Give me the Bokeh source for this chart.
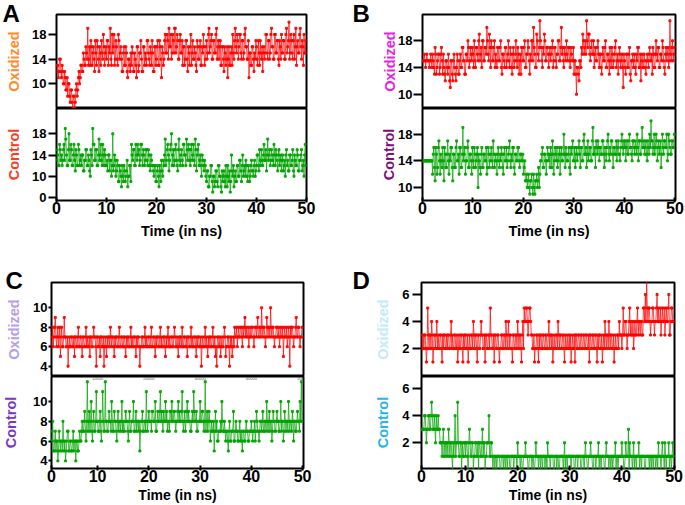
from bokeh.plotting import figure
from bokeh.layouts import column, row
from bokeh.models import FixedTicker, Range1d, Title
from bokeh.core.properties import value
from bokeh.embed import file_html
from bokeh.resources import INLINE

# ---------------- data ----------------
# each series: samples on the quarter-ns grid (t = 0, 0.25, ...) and on the
# in-between grid (t = 0.125, 0.375, ...)
time_ns = [i * 0.125 for i in range(400)]

a_oxidized = [
    12, 13, 12, 14, 11, 12, 10, 11, 9, 8, 10, 7, 9, 6, 8, 7, 10, 9, 12, 11,
    13, 12, 14, 13, 15, 19, 14, 13, 16, 15, 14, 17, 13, 16, 12, 15, 17, 14, 16, 15,
    14, 17, 16, 19, 13, 15, 18, 14, 16, 13, 17, 15, 14, 12, 16, 13, 15, 11, 14, 12,
    13, 15, 12, 14, 11, 16, 13, 15, 14, 12, 16, 15, 13, 17, 14, 16, 13, 15, 12, 16,
    14, 17, 13, 16, 11, 15, 14, 18, 15, 17, 19, 16, 14, 18, 15, 19, 16, 17, 14, 18,
    15, 13, 16, 14, 17, 12, 15, 16, 13, 17, 14, 15, 12, 16, 14, 17, 13, 15, 16, 14,
    17, 15, 19, 16, 18, 14, 17, 15, 19, 16, 14, 17, 13, 16, 12, 15, 14, 11, 16, 13,
    16, 18, 14, 19, 15, 17, 16, 18, 14, 17, 15, 19, 16, 14, 11, 15, 13, 16, 12, 14,
    16, 13, 15, 17, 14, 12, 16, 15, 18, 14, 17, 15, 19, 16, 14, 18, 15, 17, 13, 16,
    18, 15, 17, 14, 19, 16, 20, 15, 17, 14, 18, 16, 13, 17, 15, 19, 14, 16, 18, 15,
]
a_oxidized_mid = [
    13, 11, 14, 12, 13, 10, 12, 9, 11, 10, 8, 9, 7, 8, 6, 9, 8, 11, 10, 13,
    12, 15, 13, 16, 14, 13, 16, 17, 13, 16, 12, 15, 17, 14, 16, 13, 15, 18, 13, 16,
    17, 13, 15, 14, 18, 16, 13, 17, 14, 18, 14, 16, 12, 15, 13, 16, 12, 14, 13, 15,
    16, 12, 15, 13, 16, 12, 15, 17, 12, 16, 13, 14, 17, 15, 13, 15, 17, 12, 16, 13,
    16, 13, 17, 14, 16, 13, 17, 15, 18, 14, 16, 18, 15, 17, 19, 15, 18, 14, 17, 15,
    17, 16, 13, 17, 14, 16, 13, 18, 15, 14, 16, 13, 17, 14, 16, 13, 16, 18, 13, 16,
    14, 18, 15, 17, 14, 17, 15, 18, 14, 17, 16, 13, 16, 14, 16, 13, 16, 14, 13, 15,
    13, 15, 17, 16, 18, 14, 18, 15, 17, 14, 18, 16, 14, 17, 15, 13, 16, 14, 15, 17,
    14, 17, 13, 15, 16, 15, 14, 18, 15, 17, 14, 18, 16, 14, 18, 15, 17, 14, 17, 14,
    15, 17, 14, 18, 15, 17, 14, 18, 15, 17, 14, 19, 16, 15, 18, 16, 17, 13, 15, 17,
]
a_control = [
    13, 14, 12, 15, 14, 13, 16, 19, 14, 12, 18, 13, 15, 12, 16, 11, 14, 12, 15, 13,
    12, 14, 11, 13, 15, 12, 13, 10, 14, 19, 16, 13, 15, 12, 17, 14, 13, 16, 12, 14,
    12, 11, 14, 13, 10, 18, 12, 13, 11, 12, 9, 11, 8, 10, 12, 9, 11, 8, 10, 12,
    16, 13, 15, 12, 14, 16, 15, 13, 16, 12, 14, 13, 15, 12, 14, 11, 13, 12, 10, 12,
    9, 12, 8, 11, 13, 10, 12, 17, 13, 16, 11, 15, 18, 14, 12, 15, 13, 11, 17, 12,
    15, 12, 16, 14, 17, 13, 15, 12, 16, 14, 13, 17, 11, 15, 12, 14, 10, 13, 11, 12,
    9, 11, 8, 10, 12, 7, 10, 9, 11, 8, 12, 10, 7, 9, 11, 8, 10, 12, 9, 7,
    14, 10, 8, 11, 9, 12, 10, 13, 9, 14, 11, 10, 12, 9, 11, 10, 13, 11, 12, 10,
    12, 14, 11, 13, 15, 12, 16, 13, 11, 17, 14, 12, 15, 13, 16, 12, 14, 11, 15, 13,
    11, 14, 12, 10, 15, 13, 11, 14, 12, 15, 10, 13, 12, 14, 11, 13, 15, 12, 10, 16,
]
a_control_mid = [
    15, 12, 16, 13, 12, 15, 13, 17, 12, 15, 13, 16, 12, 14, 13, 15, 12, 16, 12, 14,
    14, 11, 13, 15, 12, 14, 11, 15, 12, 16, 13, 15, 12, 14, 13, 16, 12, 14, 15, 12,
    13, 14, 11, 13, 12, 11, 14, 10, 13, 9, 12, 10, 12, 9, 11, 10, 13, 10, 12, 9,
    14, 15, 12, 16, 13, 14, 12, 16, 14, 15, 12, 15, 13, 15, 12, 14, 12, 11, 12, 9,
    11, 10, 12, 9, 11, 13, 14, 12, 15, 14, 13, 16, 12, 15, 13, 16, 12, 15, 13, 14,
    13, 16, 14, 12, 15, 16, 13, 15, 13, 16, 12, 15, 14, 16, 13, 12, 14, 12, 13, 10,
    11, 8, 10, 12, 9, 10, 8, 11, 9, 12, 10, 8, 11, 10, 9, 12, 8, 10, 11, 9,
    11, 12, 10, 9, 12, 10, 13, 11, 12, 10, 12, 13, 10, 12, 9, 12, 11, 10, 13, 11,
    14, 12, 15, 12, 13, 14, 13, 15, 14, 13, 15, 13, 14, 12, 14, 15, 13, 14, 12, 14,
    13, 11, 13, 14, 12, 11, 14, 12, 13, 11, 14, 12, 15, 11, 13, 14, 11, 13, 14, 12,
]
b_oxidized = [
    15, 15, 15, 15, 15, 15, 15, 15, 16, 14, 17, 13, 15, 16, 14, 17, 13, 14, 12, 15,
    13, 14, 11, 15, 12, 16, 13, 14, 15, 13, 16, 14, 17, 15, 13, 16, 18, 14, 17, 15,
    16, 18, 14, 17, 15, 19, 16, 14, 18, 15, 17, 20, 16, 19, 14, 17, 15, 18, 16, 14,
    17, 15, 18, 13, 16, 14, 17, 15, 18, 14, 16, 13, 17, 15, 18, 14, 16, 15, 13, 17,
    15, 18, 14, 16, 17, 13, 15, 18, 20, 16, 14, 18, 15, 21, 17, 14, 16, 18, 15, 17,
    14, 17, 16, 18, 15, 17, 14, 16, 18, 15, 20, 17, 14, 16, 18, 15, 17, 14, 16, 15,
    13, 15, 10, 14, 12, 15, 17, 19, 16, 18, 21, 17, 19, 15, 18, 16, 14, 17, 15, 18,
    14, 16, 13, 17, 15, 18, 14, 16, 13, 15, 17, 14, 16, 18, 15, 13, 17, 14, 16, 11,
    15, 13, 16, 14, 17, 12, 15, 14, 16, 13, 15, 17, 14, 12, 16, 14, 15, 13, 16, 14,
    17, 15, 13, 16, 14, 18, 15, 17, 14, 16, 18, 15, 13, 17, 16, 14, 21, 15, 18, 16,
]
b_oxidized_mid = [
    15, 16, 14, 16, 15, 14, 16, 14, 15, 13, 16, 14, 16, 13, 16, 15, 16, 13, 15, 14,
    16, 12, 15, 13, 15, 14, 12, 16, 13, 15, 14, 17, 15, 13, 16, 15, 17, 15, 16, 17,
    14, 15, 17, 16, 18, 15, 17, 18, 15, 17, 16, 18, 15, 17, 18, 15, 17, 14, 15, 17,
    15, 17, 14, 16, 15, 17, 14, 16, 15, 17, 14, 16, 14, 16, 15, 17, 13, 16, 17, 15,
    17, 14, 16, 18, 15, 16, 18, 15, 17, 14, 19, 16, 17, 18, 15, 17, 19, 15, 17, 16,
    16, 15, 17, 14, 17, 15, 16, 18, 15, 17, 16, 15, 17, 15, 16, 17, 15, 17, 15, 17,
    15, 13, 14, 13, 15, 14, 16, 18, 17, 16, 18, 19, 16, 17, 16, 18, 16, 15, 17, 16,
    16, 14, 16, 15, 17, 14, 16, 15, 17, 14, 16, 15, 17, 14, 16, 15, 16, 15, 14, 16,
    14, 16, 14, 16, 13, 15, 16, 15, 14, 16, 17, 14, 16, 15, 14, 16, 14, 15, 15, 16,
    15, 16, 17, 14, 16, 16, 17, 14, 16, 15, 17, 14, 16, 15, 17, 15, 16, 17, 15, 17,
]
b_control = [
    14, 14, 14, 14, 14, 14, 14, 14, 12, 16, 11, 15, 13, 17, 12, 14, 16, 11, 15, 13,
    17, 12, 14, 16, 11, 15, 13, 17, 14, 12, 16, 13, 19, 15, 12, 14, 17, 13, 15, 12,
    14, 16, 13, 15, 10, 14, 12, 16, 13, 15, 14, 12, 16, 13, 15, 14, 17, 13, 15, 12,
    16, 13, 14, 15, 12, 16, 14, 13, 15, 17, 13, 14, 16, 12, 15, 14, 16, 13, 15, 14,
    12, 14, 11, 10, 12, 9, 11, 10, 12, 9, 11, 10, 13, 12, 14, 16, 13, 15, 12, 16,
    14, 13, 15, 17, 12, 16, 14, 13, 15, 12, 16, 14, 18, 13, 15, 14, 16, 12, 15, 17,
    14, 13, 16, 15, 17, 13, 16, 14, 18, 15, 13, 17, 15, 16, 14, 19, 15, 13, 16, 17,
    14, 16, 15, 17, 13, 15, 16, 18, 14, 15, 17, 13, 16, 15, 14, 17, 15, 16, 18, 15,
    16, 14, 17, 15, 18, 16, 14, 17, 15, 16, 18, 14, 17, 15, 19, 16, 15, 17, 14, 16,
    18, 20, 17, 16, 15, 18, 14, 17, 16, 13, 18, 15, 17, 16, 14, 18, 16, 15, 17, 16,
]
b_control_mid = [
    14, 14, 14, 14, 14, 14, 14, 14, 15, 13, 16, 12, 16, 14, 15, 13, 14, 16, 13, 15,
    14, 15, 16, 13, 15, 13, 16, 14, 15, 16, 13, 15, 14, 16, 14, 16, 13, 15, 14, 16,
    13, 15, 14, 16, 15, 13, 15, 13, 15, 14, 16, 13, 15, 14, 16, 13, 15, 14, 14, 15,
    14, 15, 16, 13, 15, 14, 16, 14, 16, 14, 15, 16, 13, 15, 14, 16, 14, 15, 14, 15,
    13, 11, 12, 11, 10, 11, 12, 9, 10, 11, 12, 11, 10, 14, 15, 13, 15, 14, 14, 15,
    15, 16, 13, 15, 14, 15, 16, 14, 16, 15, 14, 15, 15, 16, 14, 15, 13, 16, 16, 14,
    16, 15, 14, 16, 15, 16, 14, 17, 15, 16, 15, 14, 16, 14, 17, 15, 16, 17, 15, 16,
    16, 15, 17, 15, 16, 14, 17, 15, 16, 17, 15, 16, 15, 17, 16, 15, 14, 17, 16, 17,
    17, 16, 15, 17, 16, 15, 17, 16, 17, 15, 16, 17, 15, 17, 16, 17, 16, 15, 17, 15,
    16, 17, 15, 18, 16, 17, 16, 15, 17, 15, 16, 17, 16, 18, 15, 17, 15, 17, 16, 18,
]
c_oxidized = [
    7, 7, 7, 7, 6, 8, 7, 9, 6, 8, 7, 5, 8, 6, 9, 7, 6, 4, 7, 6,
    7, 6, 5, 7, 6, 8, 6, 7, 5, 7, 6, 8, 7, 6, 5, 7, 6, 8, 7, 4,
    7, 6, 5, 7, 6, 4, 7, 5, 6, 7, 8, 6, 7, 5, 6, 7, 6, 8, 6, 7,
    6, 7, 5, 6, 7, 6, 8, 7, 6, 7, 5, 6, 7, 4, 6, 7, 6, 8, 7, 6,
    7, 6, 8, 6, 7, 5, 6, 7, 6, 8, 7, 6, 7, 5, 6, 8, 7, 6, 7, 6,
    8, 6, 7, 5, 6, 7, 8, 6, 7, 6, 5, 7, 6, 8, 7, 6, 7, 5, 6, 7,
    6, 4, 7, 6, 8, 7, 5, 6, 7, 6, 8, 6, 5, 4, 7, 6, 5, 7, 6, 8,
    5, 6, 7, 4, 6, 5, 7, 8, 7, 6, 8, 7, 8, 6, 7, 9, 8, 7, 6, 8,
    7, 8, 6, 8, 7, 9, 7, 8, 10, 7, 8, 6, 9, 7, 8, 10, 7, 8, 6, 7,
    8, 7, 6, 8, 7, 5, 8, 7, 6, 8, 4, 7, 8, 6, 7, 9, 7, 8, 6, 7,
]
c_oxidized_mid = [
    6, 7, 6, 8, 7, 6, 8, 7, 7, 6, 8, 7, 6, 7, 7, 6, 7, 6, 6, 7,
    6, 7, 7, 6, 7, 6, 7, 6, 7, 6, 7, 6, 6, 7, 7, 6, 7, 7, 6, 7,
    6, 7, 7, 6, 7, 6, 6, 7, 7, 6, 7, 7, 6, 7, 7, 6, 7, 6, 7, 6,
    7, 6, 7, 7, 6, 7, 6, 6, 7, 6, 7, 7, 6, 6, 7, 6, 7, 6, 6, 7,
    6, 7, 6, 7, 6, 7, 7, 6, 7, 6, 6, 7, 6, 7, 7, 6, 6, 7, 6, 7,
    7, 6, 6, 7, 7, 6, 6, 7, 6, 7, 7, 6, 7, 6, 6, 7, 6, 7, 7, 6,
    7, 6, 6, 7, 6, 6, 7, 7, 6, 7, 6, 7, 6, 7, 6, 7, 6, 6, 7, 7,
    6, 7, 6, 7, 7, 6, 6, 7, 8, 7, 7, 8, 7, 8, 8, 7, 7, 8, 7, 7,
    8, 7, 7, 8, 8, 7, 8, 7, 8, 8, 7, 7, 8, 8, 7, 8, 8, 7, 7, 8,
    7, 8, 7, 7, 8, 7, 7, 8, 7, 7, 8, 8, 7, 7, 8, 7, 8, 7, 7, 8,
]
c_control = [
    7, 7, 7, 7, 6, 8, 5, 7, 6, 4, 7, 5, 6, 8, 5, 4, 6, 7, 5, 6,
    5, 7, 6, 4, 6, 5, 7, 6, 8, 7, 9, 6, 12, 8, 7, 10, 6, 9, 7, 11,
    8, 7, 9, 6, 11, 7, 12, 8, 7, 9, 8, 10, 7, 9, 8, 6, 9, 8, 7, 10,
    8, 7, 9, 8, 6, 9, 7, 8, 10, 7, 9, 8, 7, 5, 8, 9, 7, 8, 11, 7,
    9, 8, 7, 9, 8, 10, 7, 9, 8, 11, 9, 7, 8, 10, 9, 8, 7, 9, 10, 8,
    9, 7, 8, 10, 9, 8, 11, 7, 9, 8, 10, 9, 8, 7, 9, 11, 8, 9, 7, 8,
    10, 8, 9, 7, 12, 8, 7, 9, 6, 8, 7, 5, 9, 8, 6, 7, 8, 10, 7, 8,
    6, 7, 5, 8, 6, 7, 9, 6, 8, 7, 6, 8, 7, 5, 7, 6, 8, 7, 6, 7,
    8, 6, 7, 6, 9, 7, 6, 8, 7, 9, 7, 8, 10, 7, 9, 8, 6, 9, 8, 7,
    9, 8, 7, 10, 8, 6, 9, 7, 8, 10, 7, 8, 9, 6, 8, 7, 9, 8, 10, 12,
]
c_control_mid = [
    6, 6, 7, 6, 7, 5, 6, 5, 6, 5, 6, 6, 5, 6, 6, 5, 7, 5, 6, 5,
    6, 5, 6, 6, 5, 6, 6, 7, 7, 8, 7, 8, 7, 9, 8, 7, 8, 7, 8, 8,
    7, 8, 7, 8, 8, 7, 8, 7, 8, 8, 7, 8, 7, 8, 7, 8, 7, 8, 8, 7,
    7, 8, 8, 7, 8, 7, 8, 8, 7, 8, 7, 8, 8, 7, 8, 7, 8, 7, 8, 8,
    8, 8, 9, 8, 8, 7, 8, 8, 9, 8, 8, 9, 8, 8, 7, 8, 9, 8, 8, 9,
    8, 8, 9, 8, 8, 9, 8, 8, 7, 9, 8, 8, 7, 8, 8, 9, 8, 7, 8, 8,
    8, 9, 8, 8, 7, 9, 8, 8, 7, 7, 8, 7, 7, 6, 7, 7, 7, 8, 7, 7,
    7, 6, 7, 6, 7, 7, 6, 7, 7, 6, 7, 6, 6, 7, 6, 7, 7, 6, 7, 7,
    7, 7, 8, 7, 8, 7, 7, 8, 8, 7, 8, 7, 8, 8, 7, 8, 7, 8, 7, 8,
    8, 7, 8, 7, 8, 7, 8, 8, 7, 8, 8, 7, 8, 8, 7, 8, 8, 7, 8, 8,
]
d_oxidized = [
    3, 2, 3, 2, 3, 2, 3, 2, 2, 3, 1, 5, 2, 3, 4, 1, 3, 2, 4, 3,
    2, 3, 1, 2, 3, 2, 2, 3, 2, 4, 3, 2, 3, 2, 1, 3, 2, 3, 1, 2,
    3, 2, 1, 3, 2, 3, 4, 2, 3, 1, 3, 2, 4, 3, 2, 1, 3, 2, 3, 5,
    3, 2, 1, 3, 2, 3, 1, 2, 3, 2, 3, 4, 2, 4, 3, 2, 1, 3, 2, 3,
    4, 2, 3, 1, 4, 5, 4, 5, 3, 5, 4, 3, 2, 1, 2, 3, 1, 2, 3, 2,
    3, 2, 3, 2, 4, 3, 2, 1, 3, 2, 3, 4, 2, 3, 2, 3, 1, 2, 3, 2,
    2, 1, 3, 2, 1, 3, 2, 3, 2, 3, 2, 3, 2, 3, 2, 1, 3, 2, 3, 2,
    3, 1, 2, 3, 2, 1, 3, 4, 2, 3, 4, 2, 3, 2, 1, 3, 2, 3, 4, 3,
    2, 5, 3, 4, 2, 3, 5, 4, 3, 2, 4, 3, 5, 4, 3, 4, 3, 5, 6, 7,
    4, 5, 3, 4, 5, 3, 4, 6, 5, 4, 3, 5, 4, 3, 5, 4, 6, 3, 5, 4,
]
d_oxidized_mid = [
    2, 3, 2, 3, 2, 3, 2, 3, 3, 2, 2, 3, 3, 2, 3, 2, 3, 3, 2, 2,
    3, 2, 3, 3, 2, 3, 3, 2, 3, 2, 2, 3, 2, 3, 2, 2, 3, 2, 3, 3,
    2, 3, 2, 2, 3, 2, 3, 3, 2, 3, 2, 3, 3, 2, 3, 3, 2, 3, 2, 3,
    2, 3, 3, 2, 3, 2, 2, 3, 2, 3, 2, 3, 3, 2, 3, 2, 3, 2, 3, 2,
    3, 3, 2, 3, 2, 4, 5, 4, 4, 5, 3, 2, 3, 2, 3, 2, 3, 3, 2, 3,
    2, 3, 2, 3, 2, 3, 3, 2, 2, 3, 2, 3, 3, 2, 3, 2, 3, 2, 2, 3,
    3, 2, 2, 3, 3, 2, 3, 2, 3, 2, 3, 2, 3, 2, 3, 3, 2, 3, 2, 3,
    2, 3, 3, 2, 3, 2, 2, 3, 3, 2, 3, 3, 2, 3, 2, 2, 3, 2, 3, 3,
    3, 3, 4, 3, 3, 4, 3, 3, 4, 3, 3, 4, 3, 4, 4, 3, 5, 4, 4, 5,
    5, 4, 4, 5, 4, 4, 5, 4, 4, 5, 4, 4, 5, 4, 4, 5, 3, 4, 5, 4,
]
d_control = [
    3, 3, 3, 3, 3, 3, 3, 3, 3, 4, 2, 3, 4, 3, 5, 3, 4, 2, 3, 4,
    3, 2, 1, 3, 2, 1, 2, 3, 1, 2, 0, 1, 4, 2, 5, 1, 2, 0, 1, 2,
    1, 2, 0, 3, 1, 2, 0, 1, 2, 1, 0, 2, 1, 3, 2, 0, 1, 2, 4, 1,
    2, 0, 1, 1, 0, 1, 1, 0, 1, 0, 1, 1, 0, 1, 0, 1, 1, 0, 1, 1,
    2, 1, 0, 1, 0, 1, 2, 1, 0, 1, 1, 0, 1, 0, 2, 1, 0, 1, 1, 0,
    1, 0, 1, 2, 1, 0, 1, 1, 0, 1, 0, 1, 0, 1, 1, 0, 2, 1, 0, 1,
    1, 0, 1, 1, 0, 1, 0, 1, 1, 0, 1, 0, 2, 1, 0, 1, 2, 1, 0, 1,
    0, 1, 2, 1, 0, 1, 1, 0, 2, 1, 0, 1, 1, 0, 1, 2, 1, 0, 1, 1,
    2, 1, 0, 2, 1, 3, 2, 1, 0, 2, 1, 0, 1, 2, 1, 0, 1, 1, 0, 1,
    1, 0, 1, 1, 0, 1, 0, 1, 2, 1, 0, 2, 1, 2, 0, 1, 2, 1, 0, 2,
]
d_control_mid = [
    3, 3, 3, 3, 3, 3, 3, 3, 4, 3, 3, 4, 3, 4, 4, 3, 3, 4, 3, 3,
    2, 2, 2, 1, 2, 2, 1, 2, 2, 1, 2, 2, 1, 2, 2, 1, 2, 2, 1, 2,
    2, 1, 2, 2, 1, 2, 1, 2, 1, 2, 2, 1, 2, 1, 2, 1, 2, 2, 1, 2,
    1, 1, 0, 1, 1, 1, 0, 1, 1, 1, 0, 1, 1, 1, 0, 1, 1, 1, 1, 0,
    1, 1, 1, 0, 1, 1, 1, 1, 0, 1, 1, 1, 0, 1, 1, 1, 1, 0, 1, 1,
    1, 1, 0, 1, 1, 1, 1, 0, 1, 1, 1, 0, 1, 1, 1, 1, 0, 1, 1, 1,
    1, 1, 1, 0, 1, 1, 1, 1, 0, 1, 1, 1, 1, 0, 1, 1, 1, 0, 1, 1,
    1, 1, 0, 1, 1, 1, 0, 1, 1, 1, 1, 0, 1, 1, 1, 0, 1, 1, 1, 1,
    1, 0, 1, 1, 1, 0, 1, 1, 1, 0, 1, 1, 1, 0, 1, 1, 1, 0, 1, 1,
    1, 1, 0, 1, 1, 1, 1, 0, 1, 1, 1, 1, 0, 1, 1, 1, 0, 1, 1, 1,
]

x_ticks = [10, 20, 30, 40, 50]
y_ticks_a_ox = [10, 14, 18]
y_ticks_a_ctl = [6, 10, 14, 18]
y_tick_labels_a_ctl = {6: "0"}
y_ticks_b = [10, 14, 18]
y_ticks_c = [4, 6, 8, 10]
y_ticks_d = [2, 4, 6]
c_minor_ticks = [10, 20, 30, 40, 50]
c_minor_labels = ["10000", "20000", "30000", "40000", "50000"]

FONT = "Liberation Sans"
RED = "#FF0000"
GREEN = "#00A300"
X_TICK_OUT = 2
X_LABEL_STANDOFF = -1


def interleave(on_grid, mid_grid):
    out = []
    for a, b in zip(on_grid, mid_grid):
        out.extend([a, b])
    return out


def frame_fig(width, height, left, right, top, bottom, xr, yr):
    p = figure(width=width, height=height, x_range=Range1d(*xr), y_range=Range1d(*yr),
               output_backend="svg", toolbar_location=None, title=None,
               min_border_left=left, min_border_right=right,
               min_border_top=top, min_border_bottom=bottom)
    p.outline_line_color = "black"
    p.outline_line_width = 2
    p.outline_line_alpha = 1
    p.xgrid.visible = False
    p.ygrid.visible = False
    p.background_fill_color = "white"
    p.border_fill_color = "white"
    return p


def style_y(p, ticks, label, color, tick_out, standoff, title_standoff, overrides=None):
    ax = p.yaxis[0]
    ax.ticker = FixedTicker(ticks=ticks)
    if overrides:
        ax.major_label_overrides = overrides
    ax.major_label_text_font = FONT
    ax.major_label_text_font_style = "bold"
    ax.major_label_text_font_size = "13px"
    ax.major_label_text_color = "black"
    ax.major_tick_in = 0
    ax.major_tick_out = tick_out
    ax.major_tick_line_width = 2
    ax.major_tick_line_color = "black"
    ax.minor_tick_line_color = None
    ax.axis_line_color = None
    ax.major_label_standoff = standoff
    ax.axis_label = label
    ax.axis_label_text_color = color
    ax.axis_label_text_font = FONT
    ax.axis_label_text_font_style = "bold"
    ax.axis_label_text_font_size = "14.5px"
    ax.axis_label_standoff = title_standoff


def style_x(p, ticks, overrides, title_standoff, title_size):
    ax = p.xaxis[0]
    ax.ticker = FixedTicker(ticks=ticks)
    if overrides:
        ax.major_label_overrides = overrides
    ax.major_label_text_font = FONT
    ax.major_label_text_font_style = "bold"
    ax.major_label_text_font_size = "16px"
    ax.major_label_text_color = "black"
    ax.major_tick_in = 3
    ax.major_tick_out = X_TICK_OUT
    ax.major_tick_line_width = 2
    ax.major_tick_line_color = "black"
    ax.minor_tick_line_color = None
    ax.axis_line_color = None
    ax.major_label_standoff = X_LABEL_STANDOFF
    ax.axis_label = "Time (in ns)"
    ax.axis_label_text_color = "black"
    ax.axis_label_text_font = FONT
    ax.axis_label_text_font_style = "bold"
    ax.axis_label_text_font_size = title_size
    ax.axis_label_standoff = title_standoff


def add_series(p, y, color):
    p.line(time_ns, y, line_color=color, line_width=1, line_alpha=0.72)
    p.scatter(time_ns, y, marker="square", size=2, color=color, alpha=0.9)


def panel(letter, ox, ctl, xr, yr_ox, yr_ctl, ticks_ox, ticks_ctl, ctl_overrides,
          width, left, right, h_ox, top, h_ctl, bottom,
          ox_color, ctl_color, tick_out, standoff, t_std_ox, t_std_ctl,
          letter_offset, letter_standoff, xticks, xoverrides, xt_std, xt_size):
    p1 = frame_fig(width, h_ox, left, right, top, 0, xr, yr_ox)
    p1.xaxis.visible = False
    style_y(p1, ticks_ox, "Oxidized", ox_color, tick_out, standoff, t_std_ox)
    add_series(p1, ox, RED)
    p1.title = Title(text=letter, align="left", vertical_align="bottom",
                     offset=letter_offset, standoff=letter_standoff,
                     text_font=FONT, text_font_style="bold",
                     text_font_size="24px", text_color="black")

    p2 = frame_fig(width, h_ctl, left, right, 0, bottom, xr, yr_ctl)
    style_y(p2, ticks_ctl, "Control", ctl_color, tick_out, standoff, t_std_ctl, ctl_overrides)
    style_x(p2, xticks, xoverrides, xt_std, xt_size)
    add_series(p2, ctl, GREEN)
    return p1, p2


# Panel A  (page x 0..340)
xa = (0.0, 50.0)
a1, a2 = panel("A", interleave(a_oxidized, a_oxidized_mid), interleave(a_control, a_control_mid),
               xa, (6.0, 21.24), (5.42, 22.77),
               y_ticks_a_ox, y_ticks_a_ctl, y_tick_labels_a_ctl,
               340, 56, 34, 108, 14, 137, 45,
               "#FF8A2A", "#F83C1E", 8, 2, 7, 7,
               -54, -24, [0] + x_ticks, None, 6, "14.5px")
# Panel B  (page x 340..685)
xb = (0.0, 50.1)
b1, b2 = panel("B", interleave(b_oxidized, b_oxidized_mid), interleave(b_control, b_control_mid),
               xb, (7.86, 21.94), (8.05, 21.86),
               y_ticks_b, y_ticks_b, None,
               345, 82, 10, 108, 14, 137, 45,
               "#E61EE6", "#7D0F7D", 9, 1, -3, -2,
               -70, -24, [0] + x_ticks, None, 6, "14.5px")
# Panel C
xc = (1.01, 50.17)
c1, c2 = panel("C", interleave(c_oxidized, c_oxidized_mid), interleave(c_control, c_control_mid),
               xc, (2.94, 12.6), (3.23, 12.53),
               y_ticks_c, y_ticks_c, None,
               340, 48, 37, 131, 37, 129, 36,
               "#B79DE8", "#7738C8", 3, 1, 8, 11,
               -46, -23, [xc[0]] + x_ticks, {xc[0]: "0"}, 2, "14px")
c2.text(x=c_minor_ticks, y=[12.53 - 2.5 * (12.53 - 3.23) / 93] * len(c_minor_ticks),
        text=c_minor_labels, text_font=value(FONT), text_font_size=value("4px"),
        text_color="#555555", text_align="center", text_baseline="middle")
# Panel D
xd = (1.55, 50.09)
d1, d2 = panel("D", interleave(d_oxidized, d_oxidized_mid), interleave(d_control, d_control_mid),
               xd, (-0.07, 6.89), (0.1, 6.9),
               y_ticks_d, y_ticks_d, None,
               345, 81, 11, 131, 37, 129, 36,
               "#C4EAF6", "#27B4EF", 9, 3, 8, 8,
               -69, -23, [xd[0]] + x_ticks, {xd[0]: "0"}, 2, "14px")

layout = column(row(column(a1, a2), column(b1, b2)),
                row(column(c1, c2), column(d1, d2)))

open("out.html", "w").write(file_html(layout, INLINE, title="chart"))
